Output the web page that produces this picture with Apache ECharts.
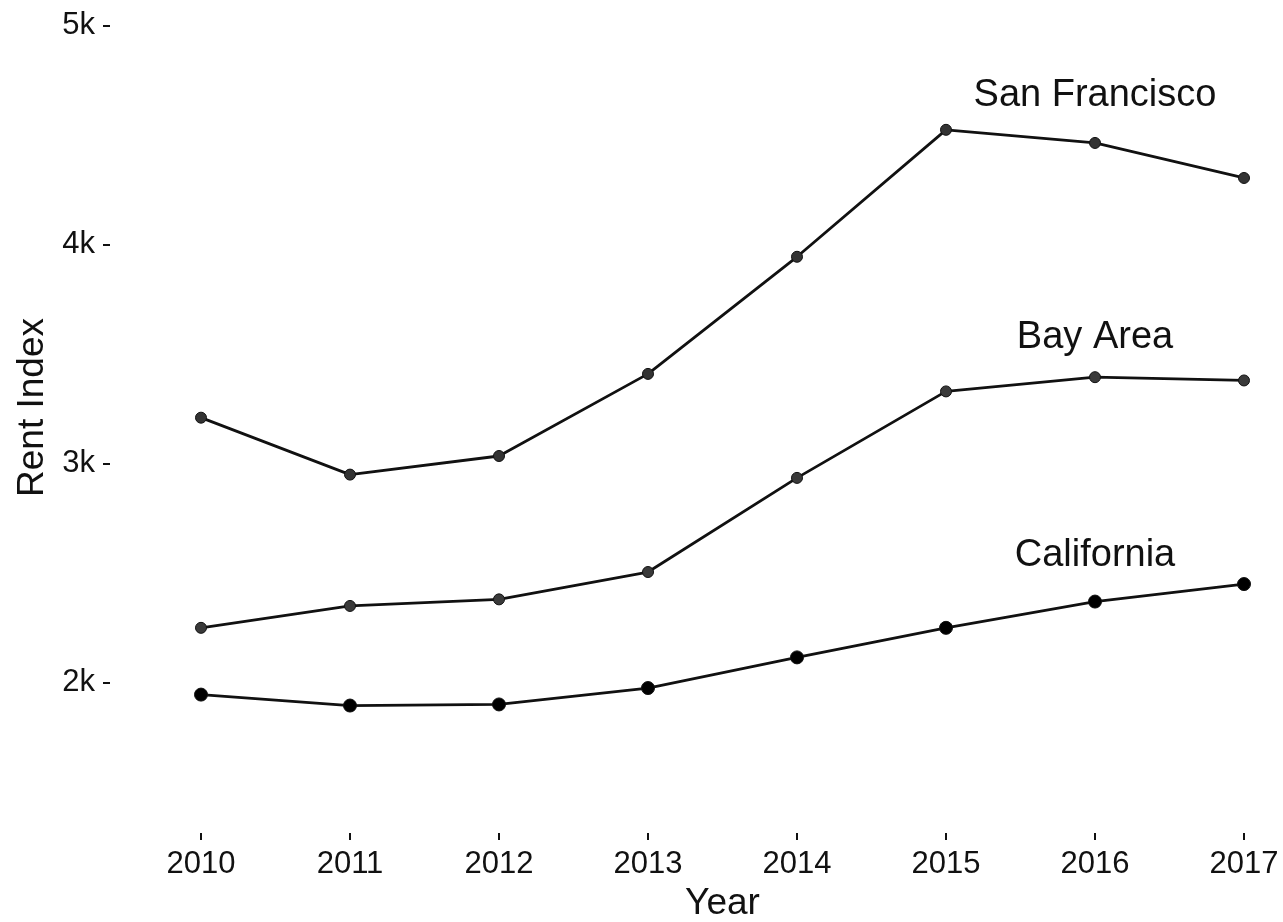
<!DOCTYPE html>
<html>
<head>
<meta charset="utf-8">
<script src="https://cdn.jsdelivr.net/npm/echarts@6/dist/echarts.min.js"></script>
<style>
  html, body { margin: 0; padding: 0; background: #ffffff; }
  #chart { width: 1283px; height: 922px; }
</style>
</head>
<body>
<div id="chart"></div>
<script>
// ---- data ----
const years = ['2010', '2011', '2012', '2013', '2014', '2015', '2016', '2017'];
const sanFrancisco = [3210, 2950, 3035, 3410, 3945, 4525, 4465, 4305];
const bayArea      = [2250, 2350, 2380, 2505, 2935, 3330, 3395, 3380];
const california   = [1945, 1895, 1900, 1975, 2115, 2250, 2370, 2450];
const yTickValues  = [2000, 3000, 4000, 5000];
const seriesNames  = ['San Francisco', 'Bay Area', 'California'];
// value at which each series' text label sits (above the 2016 point)
const labelAnchorValues = [4680, 3575, 2580];
const labelAnchorYear = '2016';

const FONT = 'Liberation Sans, Arial, sans-serif';

function annotation(i) {
  return {
    symbol: 'circle',
    symbolSize: 0,
    silent: true,
    label: {
      show: true,
      position: 'inside',
      formatter: seriesNames[i],
      fontFamily: FONT,
      fontSize: 38,
      color: '#111'
    },
    data: [{ coord: [labelAnchorYear, labelAnchorValues[i]] }]
  };
}

function lineSeries(i, values, markerSize, markerColor) {
  return {
    name: seriesNames[i],
    type: 'line',
    data: values,
    symbol: 'circle',
    symbolSize: markerSize,
    showSymbol: true,
    lineStyle: { color: '#111', width: 2.8 },
    itemStyle: { color: markerColor, borderColor: '#111', borderWidth: 1 },
    markPoint: annotation(i),
    z: 3
  };
}

const chart = echarts.init(document.getElementById('chart'), null, { renderer: 'canvas' });
chart.setOption({
  animation: false,
  backgroundColor: '#ffffff',
  grid: { left: 201, right: 39, top: 0, bottom: 107, containLabel: false, outerBoundsMode: 'none' },
  xAxis: {
    type: 'category',
    data: years,
    boundaryGap: false,
    offset: 18,
    name: 'Year',
    nameLocation: 'middle',
    nameGap: 52,
    nameTextStyle: { fontFamily: FONT, fontSize: 37, color: '#111' },
    axisLine: { show: false },
    axisTick: { show: true, length: 7, lineStyle: { color: '#111', width: 2 } },
    axisLabel: { fontFamily: FONT, fontSize: 31, color: '#111', margin: 16 },
    splitLine: { show: false }
  },
  yAxis: {
    type: 'value',
    min: 1395,
    max: 5118,
    offset: 91,
    name: 'Rent Index',
    nameLocation: 'middle',
    nameGap: 57,
    nameTextStyle: { fontFamily: FONT, fontSize: 37, color: '#111' },
    axisLine: { show: false },
    axisTick: { show: true, length: 7, customValues: yTickValues, lineStyle: { color: '#111', width: 2 } },
    axisLabel: {
      fontFamily: FONT, fontSize: 31, color: '#111', margin: 15,
      customValues: yTickValues,
      formatter: v => (v / 1000) + 'k'
    },
    splitLine: { show: false }
  },
  series: [
    lineSeries(0, sanFrancisco, 11, '#333'),
    lineSeries(1, bayArea, 11, '#3a3a3a'),
    lineSeries(2, california, 13, '#000')
  ]
});
</script>
</body>
</html>
